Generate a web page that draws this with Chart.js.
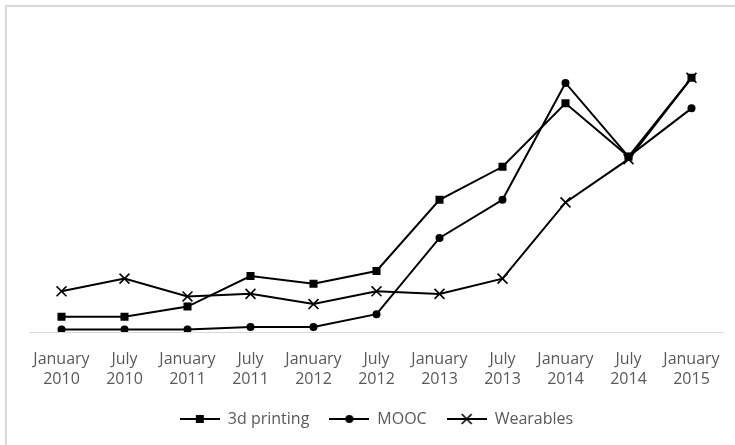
<!DOCTYPE html>
<html>
<head>
<meta charset="utf-8">
<script src="https://cdn.jsdelivr.net/npm/chart.js@4/dist/chart.umd.min.js"></script>
<style>
  html, body { margin: 0; padding: 0; background: #fff; }
  #wrap { position: relative; width: 735px; height: 445px; overflow: hidden; }
  #frame { position: absolute; left: 5px; top: 5px; width: 800px; height: 500px;
           border-left: 2px solid #d9d9d9; border-top: 2px solid #d9d9d9; pointer-events: none; }
  canvas { position: absolute; left: 0; top: 0; }
</style>
</head>
<body>
<div id="wrap">
  <canvas id="chart" width="735" height="445"></canvas>
  <div id="frame"></div>
</div>
<script>
// Half-year search interest, 2010 – 2015
const months = ["January", "July", "January", "July", "January", "July", "January", "July", "January", "July", "January"];
const years = ["2010", "2010", "2011", "2011", "2012", "2012", "2013", "2013", "2014", "2014", "2015"];
const printing3d = [6, 6, 10, 22, 19, 24, 52, 65, 90, 69, 100];
const mooc = [1, 1, 1, 2, 2, 7, 37, 52, 98, 69, 88];
const wearables = [16, 21, 14, 15, 11, 16, 15, 21, 51, 68, 100];
const seriesNames = ["3d printing", "MOOC", "Wearables"];

const labels = months.map((m, i) => [m, years[i]]);
const FONT = "'Open Sans', sans-serif";

// Small line-with-marker swatch used as the legend symbol
function swatch(style) {
  const c = document.createElement('canvas');
  c.width = 40; c.height = 14;
  const ctx = c.getContext('2d');
  ctx.strokeStyle = '#000'; ctx.fillStyle = '#000';
  ctx.lineWidth = 2;
  ctx.beginPath(); ctx.moveTo(0, 7); ctx.lineTo(40, 7); ctx.stroke();
  if (style === 'rect') {
    ctx.fillRect(16, 3, 8, 8);
  } else if (style === 'circle') {
    ctx.beginPath(); ctx.arc(20, 7, 4, 0, Math.PI * 2); ctx.fill();
  } else {
    ctx.lineWidth = 1.6;
    ctx.beginPath();
    ctx.moveTo(15, 2); ctx.lineTo(25, 12);
    ctx.moveTo(25, 2); ctx.lineTo(15, 12);
    ctx.stroke();
  }
  return c;
}

const styles = ['rect', 'circle', 'crossRot'];
const radii = [5.7, 4, 7];
const icons = styles.map(swatch);

const datasets = [printing3d, mooc, wearables].map((data, i) => ({
  label: seriesNames[i],
  data: data,
  borderColor: '#000',
  backgroundColor: '#000',
  borderWidth: 2,
  pointStyle: styles[i],
  pointRadius: radii[i],
  pointBorderWidth: i === 2 ? 1.6 : 0,
  pointBorderColor: '#000',
  pointBackgroundColor: '#000',
  tension: 0,
  fill: false
}));

new Chart(document.getElementById('chart'), {
  type: 'line',
  data: { labels: labels, datasets: datasets },
  options: {
    responsive: false,
    animation: false,
    layout: { padding: { left: 30, right: 12, top: 27, bottom: 8 } },
    scales: {
      x: {
        offset: true,
        grid: { display: false, drawTicks: false },
        border: { display: true, color: '#d9d9d9', width: 1 },
        ticks: {
          color: '#595959',
          font: { family: FONT, size: 16, lineHeight: 1.25 },
          padding: 17,
          maxRotation: 0,
          autoSkip: false
        },
        // keep the plot edges fixed and let the plot area reach down toward the legend
        afterFit: (scale) => {
          scale.paddingLeft = 0;
          scale.paddingRight = 0;
          scale.height = scale.height - 15;
        }
      },
      y: {
        display: false,
        min: 0,
        max: 120
      }
    },
    plugins: {
      tooltip: { enabled: false },
      legend: {
        position: 'bottom',
        labels: {
          usePointStyle: true,
          pointStyleWidth: 40,
          padding: 20,
          color: '#595959',
          font: { family: FONT, size: 16 },
          generateLabels: (chart) => chart.data.datasets.map((ds, i) => ({
            text: ds.label,
            fillStyle: '#000',
            strokeStyle: '#000',
            lineWidth: 0,
            pointStyle: icons[i],
            hidden: false,
            datasetIndex: i,
            fontColor: '#595959'
          }))
        }
      }
    }
  }
});
</script>
</body>
</html>
